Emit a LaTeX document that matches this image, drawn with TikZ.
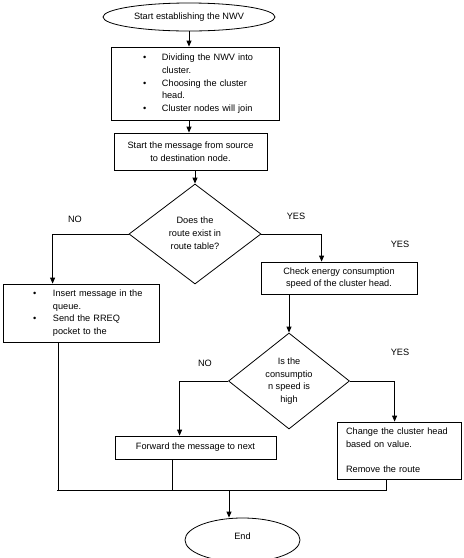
\documentclass[tikz,border=0pt]{standalone}
\usepackage{fontspec}
\setmainfont{Liberation Sans}
\usetikzlibrary{arrows.meta,positioning,shapes.geometric}

\begin{document}
\begin{tikzpicture}[x=1pt, y=-1pt,
    font=\fontsize{9.2}{12.7}\selectfont,
    line/.style={line width=0.8pt, draw=black},
    arrow/.style={line, -{Triangle[length=6pt,width=5pt]}},
    block/.style={draw, line width=0.8pt, inner sep=0pt, align=center},
    listbox/.style={block, align=left},
    decision/.style={diamond, draw, line width=0.8pt, inner sep=0pt, align=center},
    terminal/.style={ellipse, draw, line width=0.8pt, inner sep=0pt},
    answer/.style={inner sep=0pt}
  ]
    \useasboundingbox (0,0) rectangle (464,558);
    \clip (0,0) rectangle (464,558);

    \node[terminal, minimum width=172pt, minimum height=28pt] (start) at (189,17) {Start establishing the NWV};
    \node[listbox, minimum height=73pt, inner xsep=32pt, text width=104pt] (divide) at (195,83.5)
      {\begin{tabular}{@{}p{19pt}@{}l@{}}
        \textbullet & Dividing the NWV into\\
                    & cluster.\\
        \textbullet & Choosing the cluster\\
                    & head.\\
        \textbullet & Cluster nodes will join
      \end{tabular}};
    \node[block, minimum width=153pt, minimum height=37pt] (send) at (190.5,151.5)
      {Start the message from source\\to destination node.};
    \node[decision, minimum width=132pt, minimum height=100pt] (route) at (195,234)
      {\raisebox{6pt}{\begin{tabular}{@{}c@{}}Does the\\route exist in\\route table?\end{tabular}}};
    \node[listbox, minimum height=58pt, inner xsep=30pt, text width=96pt] (queue) at (81,313)
      {\begin{tabular}{@{}p{20pt}@{}l@{}}
        \textbullet & Insert message in the\\
                    & queue.\\
        \textbullet & Send the RREQ\\
                    & pocket to the
      \end{tabular}};
    \node[block, minimum width=156pt, minimum height=32pt] (check) at (339,278)
      {Check energy consumption\\speed of the cluster head.};
    \node[decision, minimum width=121pt, minimum height=96pt] (speed) at (289,381)
      {Is the\\consumptio\\n speed is\\high};
    \node[block, minimum width=161pt, minimum height=23pt] (forward) at (195.5,447.5)
      {Forward the message to next};
    \node[listbox, minimum height=57pt, inner xsep=9pt, text width=106pt] (change) at (399,450.5)
      {Change the cluster head\\based on value.\\[12.7pt]Remove the route};
    \node[terminal, minimum width=115pt, minimum height=44pt] (finish) at (242.5,540)
      {\raisebox{7pt}{End}};

    \node[answer] (routeno) at (75,219) {NO};
    \node[answer] (routeyes) at (296,216) {YES};
    \node[answer] (checkyes) at (400,244) {YES};
    \node[answer] (speedno) at (205,363) {NO};
    \node[answer] (speedyes) at (400,352) {YES};

    \draw[arrow] (start.south) -- (start.south |- divide.north);
    \draw[arrow] (divide.south -| start) -- (start |- send.north);
    \draw[arrow] (send.south -| route) -- (route.north);
    \draw[arrow] (route.west) -| ([xshift=50pt]queue.north west);
    \draw[arrow] (route.east) -| ([xshift=61pt]check.north west);
    \draw[arrow] (speed.north |- check.south) -- (speed.north);
    \draw[arrow] (speed.west) -| ([xshift=65pt]forward.north west);
    \draw[arrow] (speed.east) -| ([xshift=58pt]change.north west);

    % paths joining before the end
    \coordinate (join) at (229,490);
    \path ([xshift=56pt]queue.south west) coordinate (qout)
          ([xshift=58pt]forward.south west) coordinate (fout)
          ([xshift=50pt]change.south west) coordinate (cout);
    \draw[line] (qout) -- (qout |- join);
    \draw[line] (fout) -- (fout |- join);
    \draw[line] (cout) |- ([xshift=-2pt]qout |- join);
    \draw[arrow] (join) -- (join |- finish.north);
\end{tikzpicture}
\end{document}
